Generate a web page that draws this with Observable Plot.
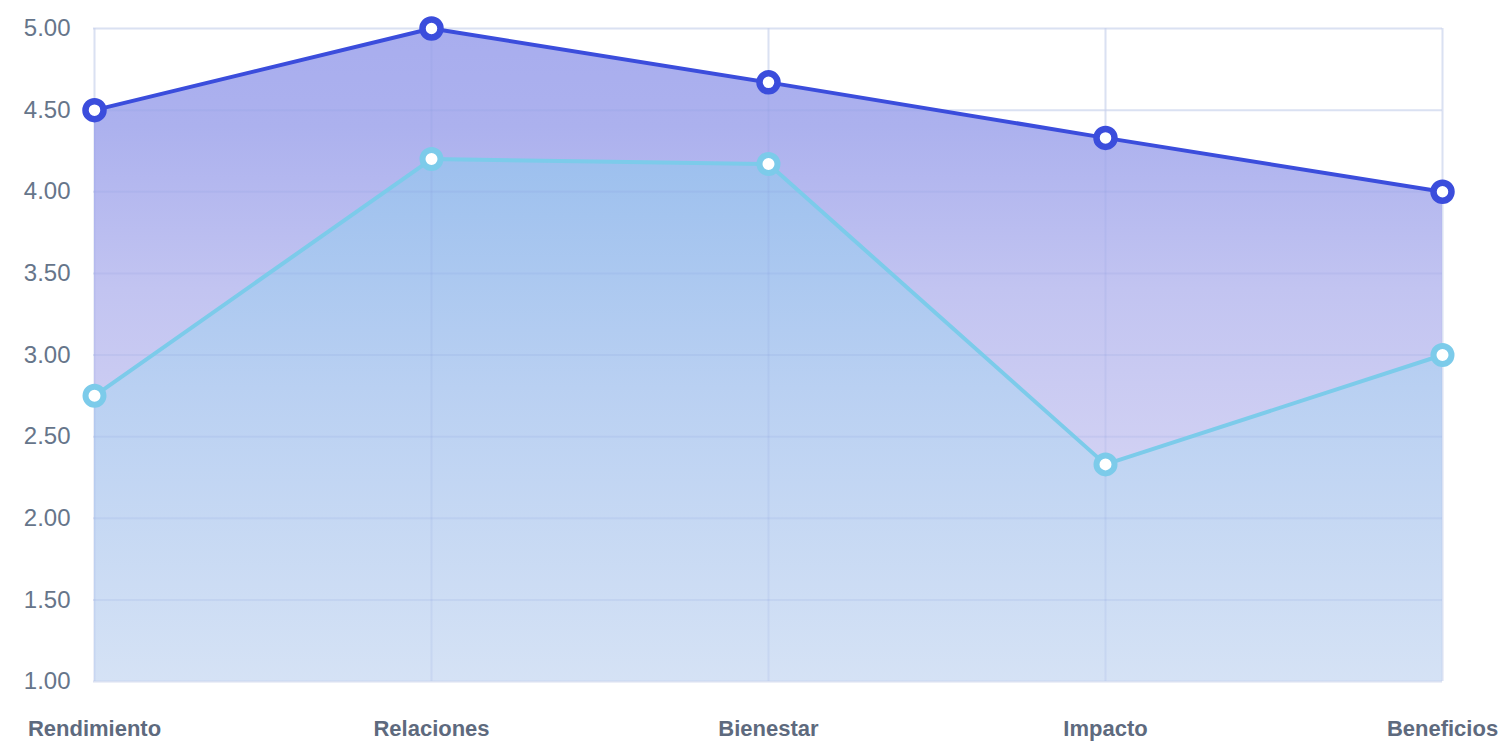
<!DOCTYPE html>
<html>
<head>
<meta charset="utf-8">
<script src="https://cdn.jsdelivr.net/npm/d3@7"></script>
<script src="https://cdn.jsdelivr.net/npm/@observablehq/plot@0.6"></script>
<style>
  html, body { margin: 0; padding: 0; background: #ffffff; }
  #chart svg { display: block; }
</style>
</head>
<body>
<div id="chart"></div>
<script>
const categories = ["Rendimiento", "Relaciones", "Bienestar", "Impacto", "Beneficios"];
const seriesA = [4.5, 5.0, 4.67, 4.33, 4.0];
const seriesB = [2.75, 4.2, 4.17, 2.33, 3.0];
const yTicks = [1, 1.5, 2, 2.5, 3, 3.5, 4, 4.5, 5];

const dataA = categories.map((c, i) => ({cat: c, v: seriesA[i]}));
const dataB = categories.map((c, i) => ({cat: c, v: seriesB[i]}));

const W = 1506, H = 742;
const mL = 93, mR = 64, mT = 28, mB = 61;

const chart = Plot.plot({
  width: W,
  height: H,
  marginLeft: mL,
  marginRight: mR,
  marginTop: mT,
  marginBottom: mB,
  style: {background: "#ffffff", fontFamily: "'Liberation Sans', Arial, sans-serif"},
  x: {type: "point", domain: categories, padding: 0, label: null},
  y: {domain: [1, 5], label: null},
  marks: [
    Plot.gridY(yTicks, {stroke: "#e9edf6", strokeOpacity: 1, strokeWidth: 2}),
    Plot.gridX(categories, {stroke: "#e9edf6", strokeOpacity: 1, strokeWidth: 2}),
    Plot.areaY(dataA, {x: "cat", y1: d => 1, y2: "v", fill: "url(#gDark)"}),
    Plot.areaY(dataB, {x: "cat", y1: d => 1, y2: "v", fill: "url(#gLight)"}),
    Plot.gridY(yTicks, {stroke: "#7f8fd8", strokeOpacity: 0.13, strokeWidth: 2}),
    Plot.gridX(categories, {stroke: "#7f8fd8", strokeOpacity: 0.13, strokeWidth: 2}),
    Plot.axisY(yTicks, {tickSize: 0, tickPadding: 23, tickFormat: d => d.toFixed(2), fontSize: 24, fill: "#66758a", label: null}),
    Plot.axisX(categories, {tickSize: 0, tickPadding: 39, fontSize: 22, fontWeight: "bold", fill: "#5e6a7e", label: null}),
    Plot.line(dataA, {x: "cat", y: "v", stroke: "#3b4ddc", strokeWidth: 4}),
    Plot.line(dataB, {x: "cat", y: "v", stroke: "#7ccbea", strokeWidth: 4}),
    Plot.dot(dataA, {x: "cat", y: "v", r: 9, fill: "#ffffff", stroke: "#3b4ddc", strokeWidth: 6.5}),
    Plot.dot(dataB, {x: "cat", y: "v", r: 9, fill: "#ffffff", stroke: "#7ccbea", strokeWidth: 6})
  ]
});

// gradient definitions
const svg = d3.select(chart);
const defs = svg.insert("defs", ":first-child");
const gd = defs.append("linearGradient").attr("id", "gDark")
  .attr("gradientUnits", "userSpaceOnUse").attr("x1", 0).attr("x2", 0).attr("y1", mT).attr("y2", H - mB);
[[0, "#a8adee"], [0.15, "#acb1ee"], [0.4, "#c2c4f1"], [0.65, "#d0d0f3"], [1, "#dcdcf6"]]
  .forEach(([o, c]) => gd.append("stop").attr("offset", o).attr("stop-color", c));
const gl = defs.append("linearGradient").attr("id", "gLight")
  .attr("gradientUnits", "userSpaceOnUse").attr("x1", 0).attr("x2", 0).attr("y1", mT).attr("y2", H - mB);
[[0, "#93b9ec"], [0.2, "#9dc0ee"], [0.55, "#b9d0f2"], [1, "#d5e2f5"]]
  .forEach(([o, c]) => gl.append("stop").attr("offset", o).attr("stop-color", c));

document.getElementById("chart").appendChild(chart);
</script>
</body>
</html>
